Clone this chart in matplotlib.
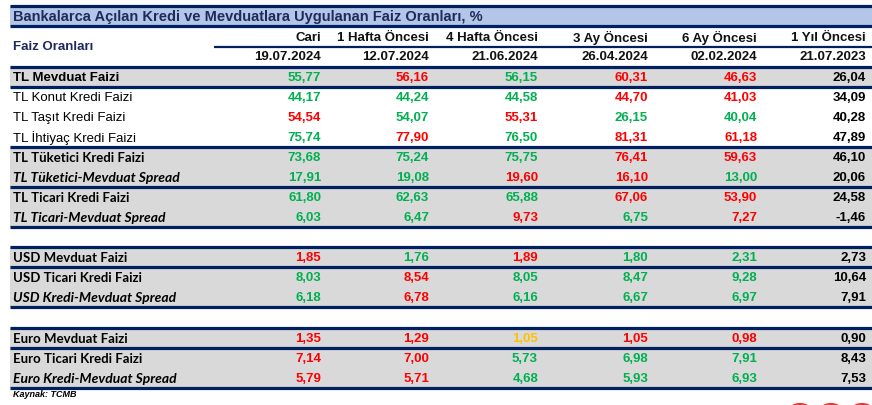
#--Faiz oranlari tablosu (TCMB verisi), matplotlib ile yeniden cizim

import matplotlib
matplotlib.use("Agg")
import matplotlib.pyplot as plt
from matplotlib.patches import Rectangle, Circle

#--Veri
title = "Bankalarca Açılan Kredi ve Mevduatlara Uygulanan Faiz Oranları, %"
columns = ["Cari", "1 Hafta Öncesi", "4 Hafta Öncesi", "3 Ay Öncesi", "6 Ay Öncesi", "1 Yıl Öncesi"]
dates = ["19.07.2024", "12.07.2024", "21.06.2024", "26.04.2024", "02.02.2024", "21.07.2023"]

labels = ["TL Mevduat Faizi", "TL Konut Kredi Faizi", "TL Taşıt Kredi Faizi", "TL İhtiyaç Kredi Faizi",
          "TL Tüketici Kredi Faizi", "TL Tüketici-Mevduat Spread", "TL Ticari Kredi Faizi",
          "TL Ticari-Mevduat Spread", "USD Mevduat Faizi", "USD Ticari Kredi Faizi",
          "USD Kredi-Mevduat Spread", "Euro Mevduat Faizi", "Euro Ticari Kredi Faizi",
          "Euro Kredi-Mevduat Spread"]

cari   = [55.77, 44.17, 54.54, 75.74, 73.68, 17.91, 61.80, 6.03, 1.85, 8.03, 6.18, 1.35, 7.14, 5.79]
hafta1 = [56.16, 44.24, 54.07, 77.90, 75.24, 19.08, 62.63, 6.47, 1.76, 8.54, 6.78, 1.29, 7.00, 5.71]
hafta4 = [56.15, 44.58, 55.31, 76.50, 75.75, 19.60, 65.88, 9.73, 1.89, 8.05, 6.16, 1.05, 5.73, 4.68]
ay3    = [60.31, 44.70, 26.15, 81.31, 76.41, 16.10, 67.06, 6.75, 1.80, 8.47, 6.67, 1.05, 6.98, 5.93]
ay6    = [46.63, 41.03, 40.04, 61.18, 59.63, 13.00, 53.90, 7.27, 2.31, 9.28, 6.97, 0.98, 7.91, 6.93]
yil1   = [26.04, 34.09, 40.28, 47.89, 46.10, 20.06, 24.58, -1.46, 2.73, 10.64, 7.91, 0.90, 8.43, 7.53]

#--Renk kodlari (g: yesil, r: kirmizi, y: sari, k: siyah)
cari_c   = list("ggrgggggrggrrr")
hafta1_c = list("rggrgggggrrrrr")
hafta4_c = list("ggrggrgrrggygg")
ay3_c    = list("rrgrrrrggggrgg")
ay6_c    = list("rrgrrgrrgggrgg")
yil1_c   = list("kkkkkkkkkkkkkk")

# label styles: 0 arial bold, 1 arial normal, 2 calibri bold, 3 calibri bold italic
label_style = [0, 1, 1, 1, 2, 3, 2, 3, 2, 2, 3, 2, 2, 3]

values = [cari, hafta1, hafta4, ay3, ay6, yil1]
colors = [cari_c, hafta1_c, hafta4_c, ay3_c, ay6_c, yil1_c]

#--Yerlesim (piksel)
W, H = 872, 406
x_left = 10
x_lab = 13
col_right = [321, 429, 538, 648, 757, 866]
row_y = [78, 98, 118, 138, 158, 178, 198, 218, 258, 278, 298, 339, 359, 379]
gray_bands = [(68, 88), (148, 228), (248, 308), (329, 389)]
navy_lines = [7, 27, 68, 88, 148, 188, 228, 248, 268, 308, 329, 349, 389]

navy = "#002060"
cmap = {"g": "#00B050", "r": "#FF0000", "y": "#FFC000", "k": "#000000"}
arial = "Liberation Sans"
calibri = "Lato"

fig = plt.figure(figsize=(W/100, H/100), dpi=100)
ax = fig.add_axes([0, 0, 1, 1])
ax.set_xlim(0, W)
ax.set_ylim(H, 0)
ax.axis("off")

#--Arka planlar
ax.add_patch(Rectangle((x_left, 7), W - x_left, 20, color="#B4C6E7", lw=0))
for y0, y1 in gray_bands:
  ax.add_patch(Rectangle((x_left, y0), W - x_left, y1 - y0, color="#D9D9D9", lw=0))

for y in navy_lines:
  ax.plot([x_left, W], [y, y], color=navy, lw=2.3, solid_capstyle="butt")
ax.plot([214, W], [47.5, 47.5], color=navy, lw=1.6, solid_capstyle="butt")

#--Baslik
ax.text(x_lab, 17, title, fontsize=10.5, fontweight="bold", family=arial, color="#1F2A5C", va="center")
ax.text(x_lab, 47, "Faiz Oranları", fontsize=9.5, fontweight="bold", family=arial, color="#1F2A5C", va="center")
for c, d, xr in zip(columns, dates, col_right):
  ax.text(xr, 38, c, fontsize=9.5, fontweight="bold", family=arial, color="#111111", ha="right", va="center")
  ax.text(xr, 57, d, fontsize=9.5, fontweight="bold", family=arial, color="#111111", ha="right", va="center")

#--Satirlar
for i, lab in enumerate(labels):
  st = label_style[i]
  if st == 0:
    kw = dict(family=arial, fontweight="bold", fontsize=9.5)
  elif st == 1:
    kw = dict(family=arial, fontweight="normal", fontsize=9.5)
  elif st == 2:
    kw = dict(family=calibri, fontweight="bold", fontsize=9.5)
  else:
    kw = dict(family=calibri, fontweight="bold", style="italic", fontsize=10)
  ax.text(x_lab, row_y[i], lab, color="black", va="center", **kw)
  for vals, cols, xr in zip(values, colors, col_right):
    s = f"{vals[i]:.2f}".replace(".", ",")
    ax.text(xr, row_y[i], s, color=cmap[cols[i]], family=arial, fontweight="bold",
            fontsize=9.5, ha="right", va="center")

ax.text(x_lab, 395, "Kaynak: TCMB", fontsize=6.5, fontweight="bold", style="italic",
        family=arial, color="black", va="center")

#--Sag alttaki logo parcasi
for cx in [800, 831, 862]:
  ax.add_patch(Circle((cx, 420), 14, fc="white", ec="#E8383D", lw=3))

fig.savefig("out.png", dpi=100)
